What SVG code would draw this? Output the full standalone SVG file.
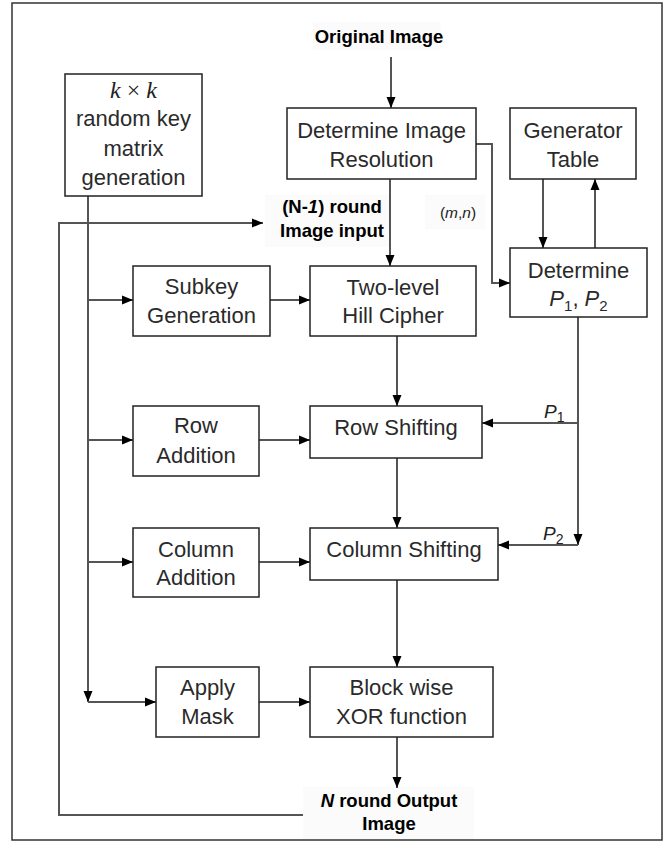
<svg xmlns="http://www.w3.org/2000/svg" width="668" height="842" viewBox="0 0 668 842">
<defs>
<marker id="ah" markerUnits="userSpaceOnUse" markerWidth="12" markerHeight="10" refX="11" refY="5" orient="auto">
<path d="M0,0.5 L11,5 L0,9.5 z" fill="#000"/>
</marker>
<style>
.box{fill:#fff;stroke:#222;stroke-width:1.5}
.t{font-family:"Liberation Sans",Arial,sans-serif;font-size:22px;fill:#2a2a2a;text-anchor:middle}
.b{font-family:"Liberation Sans",Arial,sans-serif;font-size:18.5px;font-weight:bold;fill:#000;text-anchor:middle}
.c{fill:none;stroke:#555;stroke-width:2}
.lbl{fill:#fbfbfb}
</style>
</defs>
<rect x="12" y="3" width="650" height="837" fill="#fff" stroke="#333" stroke-width="1.5"/>

<g id="labels-bg">
<rect class="lbl" x="313" y="22" width="128" height="28"/>
<rect class="lbl" x="265" y="195" width="125" height="52"/>
<rect class="lbl" x="425" y="195" width="60" height="34"/>
<rect class="lbl" x="303" y="787" width="171" height="52"/>
</g>

<g id="connectors">
<line class="c" x1="391" y1="57" x2="391" y2="108" marker-end="url(#ah)"/>
<line class="c" x1="390" y1="179" x2="390" y2="266" marker-end="url(#ah)"/>
<polyline class="c" points="476,144 492,144 492,283 510,283" marker-end="url(#ah)"/>
<line class="c" x1="543" y1="179" x2="543" y2="248" marker-end="url(#ah)"/>
<line class="c" x1="595" y1="248" x2="595" y2="179" marker-end="url(#ah)"/>
<line class="c" x1="88" y1="196" x2="88" y2="702" marker-end="url(#ah)"/>
<line class="c" x1="88" y1="300" x2="133" y2="300" marker-end="url(#ah)"/>
<line class="c" x1="88" y1="440" x2="133" y2="440" marker-end="url(#ah)"/>
<line class="c" x1="88" y1="562" x2="133" y2="562" marker-end="url(#ah)"/>
<line class="c" x1="88" y1="702" x2="156" y2="702" marker-end="url(#ah)"/>
<line class="c" x1="270" y1="300" x2="310" y2="300" marker-end="url(#ah)"/>
<line class="c" x1="259" y1="440" x2="310" y2="440" marker-end="url(#ah)"/>
<line class="c" x1="259" y1="562" x2="310" y2="562" marker-end="url(#ah)"/>
<line class="c" x1="259" y1="702" x2="310" y2="702" marker-end="url(#ah)"/>
<line class="c" x1="397" y1="336" x2="397" y2="406" marker-end="url(#ah)"/>
<line class="c" x1="397" y1="458" x2="397" y2="528" marker-end="url(#ah)"/>
<line class="c" x1="397" y1="580" x2="397" y2="667" marker-end="url(#ah)"/>
<line class="c" x1="397" y1="737" x2="397" y2="788" marker-end="url(#ah)"/>
<line class="c" x1="578" y1="317" x2="578" y2="545" marker-end="url(#ah)"/>
<line class="c" x1="578" y1="423" x2="482" y2="423" marker-end="url(#ah)"/>
<line class="c" x1="578" y1="545" x2="498" y2="545" marker-end="url(#ah)"/>
<polyline class="c" points="303,815 59,815 59,223 263,223" marker-end="url(#ah)"/>
</g>

<g id="original-image"><text class="b" x="379" y="43" font-size="16.5">Original Image</text></g>

<g id="key-matrix">
<rect class="box" x="65" y="74" width="137" height="122"/>
<text x="133.5" y="98" text-anchor="middle" font-family="'Liberation Serif','Times New Roman',serif" font-size="24" fill="#222"><tspan font-style="italic">k</tspan> × <tspan font-style="italic">k</tspan></text>
<text class="t" x="133.5" y="126">random key</text>
<text class="t" x="133.5" y="156">matrix</text>
<text class="t" x="133.5" y="185">generation</text>
</g>

<g id="determine-resolution">
<rect class="box" x="287" y="108" width="189" height="71"/>
<text class="t" x="381.5" y="138">Determine Image</text>
<text class="t" x="381.5" y="167">Resolution</text>
</g>

<g id="generator-table">
<rect class="box" x="510" y="108" width="126" height="71"/>
<text class="t" x="573" y="138">Generator</text>
<text class="t" x="573" y="167">Table</text>
</g>

<g id="mn-label"><text x="458" y="218" text-anchor="middle" font-family="'Liberation Sans',Arial,sans-serif" font-size="15.5" fill="#222">(<tspan font-style="italic">m</tspan>,<tspan font-style="italic">n</tspan>)</text></g>

<g id="round-input">
<text class="b" x="332" y="213">(N-<tspan font-style="italic">1</tspan>) round</text>
<text class="b" x="332" y="237">Image input</text>
</g>

<g id="determine-p">
<rect class="box" x="510" y="248" width="137" height="69"/>
<text class="t" x="578.5" y="278">Determine</text>
<text class="t" x="578.5" y="306"><tspan font-style="italic">P</tspan><tspan font-size="15" dy="5">1</tspan><tspan dy="-5">, </tspan><tspan font-style="italic">P</tspan><tspan font-size="15" dy="5">2</tspan></text>
</g>

<g id="subkey">
<rect class="box" x="133" y="266" width="137" height="70"/>
<text class="t" x="201.5" y="294">Subkey</text>
<text class="t" x="201.5" y="323">Generation</text>
</g>

<g id="hill-cipher">
<rect class="box" x="310" y="266" width="166" height="70"/>
<text class="t" x="393" y="295">Two-level</text>
<text class="t" x="393" y="323">Hill Cipher</text>
</g>

<g id="row-addition">
<rect class="box" x="133" y="406" width="126" height="70"/>
<text class="t" x="196" y="433">Row</text>
<text class="t" x="196" y="463">Addition</text>
</g>

<g id="row-shifting">
<rect class="box" x="310" y="406" width="172" height="52"/>
<text class="t" x="396" y="435">Row Shifting</text>
</g>

<g id="p1-label"><text x="544" y="418" font-family="'Liberation Sans',Arial,sans-serif" font-size="19" fill="#222"><tspan font-style="italic">P</tspan><tspan font-size="14" dy="4">1</tspan></text></g>

<g id="column-addition">
<rect class="box" x="133" y="528" width="126" height="69"/>
<text class="t" x="196" y="557">Column</text>
<text class="t" x="196" y="585">Addition</text>
</g>

<g id="column-shifting">
<rect class="box" x="310" y="528" width="188" height="52"/>
<text class="t" x="404" y="557">Column Shifting</text>
</g>

<g id="p2-label"><text x="543" y="540" font-family="'Liberation Sans',Arial,sans-serif" font-size="19" fill="#222"><tspan font-style="italic">P</tspan><tspan font-size="14" dy="4">2</tspan></text></g>

<g id="apply-mask">
<rect class="box" x="156" y="667" width="103" height="70"/>
<text class="t" x="207.5" y="695">Apply</text>
<text class="t" x="207.5" y="724">Mask</text>
</g>

<g id="xor">
<rect class="box" x="310" y="667" width="183" height="70"/>
<text class="t" x="401.5" y="695">Block wise</text>
<text class="t" x="401.5" y="724">XOR function</text>
</g>

<g id="output">
<text class="b" x="389" y="807"><tspan font-style="italic">N</tspan> round Output</text>
<text class="b" x="389" y="830">Image</text>
</g>
</svg>
